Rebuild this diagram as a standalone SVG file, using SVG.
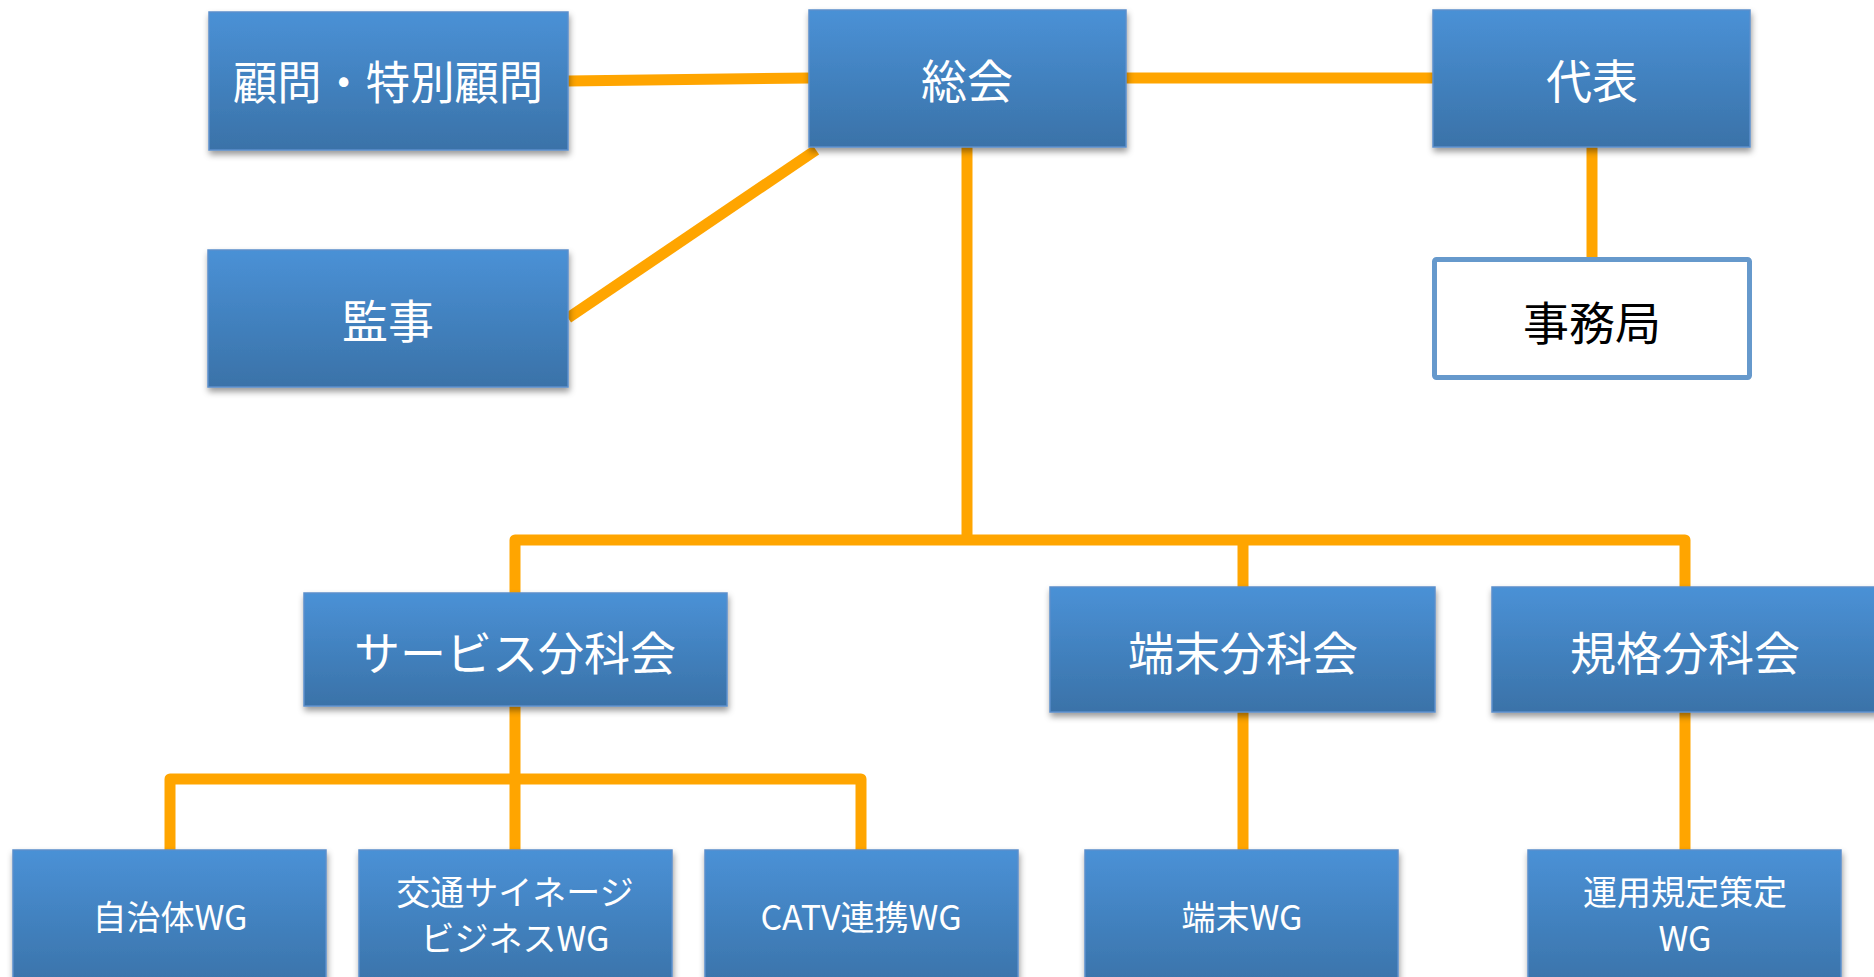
<svg xmlns="http://www.w3.org/2000/svg" width="1874" height="977" viewBox="0 0 1874 977">
<defs>
<linearGradient id="g" x1="0" y1="0" x2="0" y2="1">
<stop offset="0" stop-color="#4a91d6"/>
<stop offset="1" stop-color="#3a72a8"/>
</linearGradient>
<filter id="sh" x="-5%" y="-5%" width="110%" height="120%">
<feDropShadow dx="1" dy="4" stdDeviation="3" flood-color="#000" flood-opacity="0.4"/>
</filter>
</defs>
<style>
.box{fill:url(#g);stroke:#5b8fcc;stroke-width:1.5;filter:url(#sh)}
.wbox{fill:#fff;stroke:#6699cc;stroke-width:5}
.t{font-family:"Noto Sans CJK JP","Noto Sans",sans-serif;fill:#fff;text-anchor:middle;dominant-baseline:central}
.big{font-size:46px}
.sm{font-size:34px}
.blk{fill:#000}
.c{fill:none;stroke:#ffa500;stroke-width:11;stroke-linejoin:round}
</style>
<rect width="1874" height="977" fill="#fff"/>
<g id="connectors">
<path class="c" d="M568 81 L810 78"/>
<path class="c" d="M1125 78 H1434"/>
<path class="c" d="M1592 146 V258"/>
<path class="c" d="M816 150 L568 318"/>
<path class="c" d="M967 146 V540"/>
<path class="c" d="M515 594 V540 H1685 V588"/>
<path class="c" d="M1243 540 V588"/>
<path class="c" d="M515 706 V851"/>
<path class="c" d="M170 851 V779 H861 V851"/>
<path class="c" d="M1243 711 V851"/>
<path class="c" d="M1685 711 V851"/>
</g>
<g id="n-komon"><rect class="box" x="209" y="12" width="359" height="138"/><text class="t big" x="388" y="79" textLength="310" lengthAdjust="spacingAndGlyphs">顧問・特別顧問</text></g>
<g id="n-sokai"><rect class="box" x="809" y="10" width="317" height="137"/><text class="t big" x="967" y="78">総会</text></g>
<g id="n-daihyo"><rect class="box" x="1433" y="10" width="317" height="137"/><text class="t big" x="1592" y="78">代表</text></g>
<g id="n-kanji"><rect class="box" x="208" y="250" width="360" height="137"/><text class="t big" x="388" y="318">監事</text></g>
<g id="n-jimukyoku"><rect class="wbox" x="1434.5" y="259.5" width="315" height="118" rx="2"/><text class="t big blk" x="1592" y="320">事務局</text></g>
<g id="n-service"><rect class="box" x="304" y="593" width="423" height="113"/><text class="t big" x="515" y="650">サービス分科会</text></g>
<g id="n-tanmatsu"><rect class="box" x="1050" y="587" width="385" height="125"/><text class="t big" x="1243" y="650">端末分科会</text></g>
<g id="n-kikaku"><rect class="box" x="1492" y="587" width="386" height="125"/><text class="t big" x="1685" y="650">規格分科会</text></g>
<g id="n-jichitai"><rect class="box" x="13" y="850" width="313" height="140"/><text class="t sm" x="170" y="915">自治体WG</text></g>
<g id="n-kotsu"><rect class="box" x="359" y="850" width="313" height="140"/><text class="t sm" x="515" y="890">交通サイネージ</text><text class="t sm" x="515" y="936">ビジネスWG</text></g>
<g id="n-catv"><rect class="box" x="705" y="850" width="313" height="140"/><text class="t sm" x="861" y="915">CATV連携WG</text></g>
<g id="n-tanmatsuwg"><rect class="box" x="1085" y="850" width="313" height="140"/><text class="t sm" x="1242" y="915">端末WG</text></g>
<g id="n-unyo"><rect class="box" x="1528" y="850" width="313" height="140"/><text class="t sm" x="1685" y="890">運用規定策定</text><text class="t sm" x="1685" y="936">WG</text></g>
</svg>
